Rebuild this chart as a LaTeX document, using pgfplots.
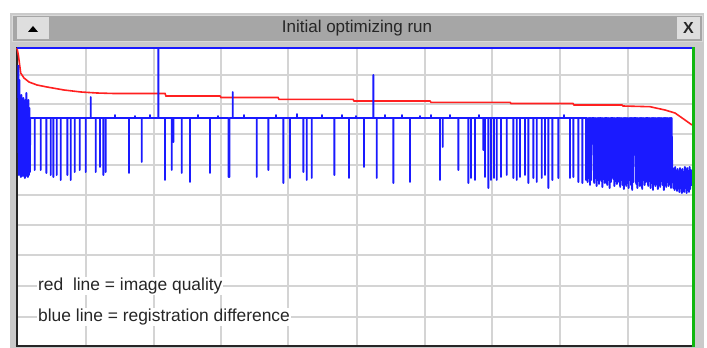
\documentclass[border=0pt]{standalone}
\usepackage{pgfplots}
\pgfplotsset{compat=1.18}
\usepackage{fontspec}
\setmainfont{Liberation Sans}
\definecolor{gridgray}{HTML}{D4D4D4}
\definecolor{framegray}{HTML}{CACACA}
\definecolor{titlegray}{HTML}{A6A6A6}
\definecolor{btngray}{HTML}{DEDEDE}
\definecolor{plotred}{HTML}{FF2020}
\definecolor{plotblue}{HTML}{1A1AFF}
\definecolor{cursorgreen}{HTML}{10B810}
\begin{document}
\begin{tikzpicture}
\useasboundingbox (0pt,0pt) rectangle (707pt,348pt);
\fill[white] (0pt,0pt) rectangle (707pt,348pt);
% window frame
\fill[framegray] (10pt,0pt) rectangle (704pt,335pt);
\fill[titlegray] (12pt,307pt) rectangle (702pt,333pt);
\draw[white!85!black, line width=0.8pt] (12pt,307pt) rectangle (702pt,333pt);
% buttons
\fill[btngray] (17pt,309pt) rectangle (49pt,331pt);
\fill[black] (28pt,316pt) -- (38pt,316pt) -- (33pt,322pt) -- cycle;
\fill[btngray] (677pt,309pt) rectangle (700pt,331pt);
\node[font=\fontsize{16}{18}\selectfont\bfseries, text=black!85] at (688.5pt,320pt) {X};
\node[font=\fontsize{17}{20}\selectfont, text=black!85] at (357pt,320pt) {Initial optimizing run};
% left and bottom plot border
\draw[black!85, line width=2pt] (16.5pt,1pt) -- (16.5pt,300.5pt);
\draw[black!85, line width=2pt] (15.5pt,2pt) -- (692pt,2pt);
\begin{axis}[
  at={(18pt,3pt)}, anchor=south west,
  scale only axis, width=675pt, height=297pt,
  xmin=18, xmax=693, ymin=48, ymax=345, y dir=reverse,
  xtick={86,154,221,288,357,425,492,560,628},
  ytick={75,104,134,165,195,225,255,286,317},
  xticklabels={}, yticklabels={},
  major tick length=0pt, tick style={draw=none},
  grid=major, grid style={gridgray, line width=1.5pt},
  axis line style={draw=none},
  axis background/.style={fill=white},
  clip=false,
]
\addplot[plotred, line width=1.6pt] coordinates {
(17,48)(18.5,56)(19,60)(20.7,73)(24,78)(29,82)(37,85)(47,87)(64,90)(81,92)(97,93)(114,93.5)(165,93.5)(166,96)(220,96)(221,97.5)(278,97.5)(279,99.3)(353,99.3)(354,101)(430,101)(431,102.3)(510,102.3)(511,103.5)(573,103.5)(574,105)(622,105)(623,106)(650,106.7)(665,110)(675,113)(685,120)(692,125)
};
\addplot[plotblue, line width=1.9pt, line join=round] coordinates {
(18.3,65)(18.8,175)(19.3,80)(19.8,172)(20.3,100)(20.8,177)(21.3,95)(21.8,170)(22.3,105)(22.8,176)(23.3,98)(23.8,174)(24.3,110)(24.8,178)(25.3,100)(25.8,172)(26.3,93)(26.8,176)(27.3,108)(27.8,177)(28.3,100)(28.8,175)(29.3,108)(29.8,172)(30.3,118)
(34.7,118)(34.7,170)(34.7,118)
(40.7,118)(40.7,170)(40.7,118)
(46.3,118)(46.3,173)(46.3,118)
(50.7,118)(50.7,175)(50.7,118)
(53.3,118)(53.3,177)(53.3,118)
(56.7,118)(56.7,175)(56.7,118)
(60.7,118)(60.7,180)(60.7,118)
(67.3,118)(67.3,175)(67.3,118)
(70.7,118)(70.7,180)(70.7,118)
(74.7,118)(74.7,172)(74.7,118)
(79.7,118)(79.7,170)(79.7,118)
(85.7,118)(85.7,172)(85.7,118)
(90.7,118)(90.7,97)(90.7,118)
(95.7,118)(95.7,172)(95.7,118)
(100,118)(100,167)(100,118)
(103.3,118)(103.3,175)(103.3,118)
(105.7,118)(105.7,172)(105.7,118)
(115,118)(115,115)(115,118)
(129,118)(129,173)(129,118)
(135,118)(135,116)(135,118)
(141.7,118)(141.7,162)(141.7,118)
(150,118)(150,115)(150,118)
(158.3,118)(158.3,48)(158.3,118)
(165,118)(165,180)(165,118)
(171.7,118)(171.7,170)(171.7,118)
(173.3,118)(173.3,142)(173.3,118)
(181.7,118)(181.7,173)(181.7,118)
(190,118)(190,182)(190,118)
(198,118)(198,115)(198,118)
(210,118)(210,173)(210,118)
(218,118)(218,116)(218,118)
(228.5,118)(228.5,177)(229.5,177)(229.5,118)
(232.7,118)(232.7,92)(232.7,118)
(244,118)(244,115)(244,118)
(256.7,118)(256.7,177)(256.7,118)
(268.3,118)(268.3,170)(268.3,118)
(276,118)(276,115)(276,118)
(283.3,118)(283.3,183)(283.3,118)
(290,118)(290,178)(290,118)
(297,118)(297,114)(297,118)
(303.3,118)(303.3,172)(303.3,118)
(306.7,118)(306.7,180)(306.7,118)
(311.7,118)(311.7,178)(311.7,118)
(322,118)(322,115)(322,118)
(334.3,118)(334.3,175)(334.3,118)
(342,118)(342,115)(342,118)
(349,118)(349,178)(349,118)
(356,118)(356,116)(356,118)
(364,118)(364,167)(364,118)
(373.3,118)(373.3,75)(373.3,118)
(376.7,118)(376.7,178)(376.7,118)
(385,118)(385,115)(385,118)
(393.3,118)(393.3,183)(393.3,118)
(402,118)(402,115)(402,118)
(410,118)(410,182)(410,118)
(420,118)(420,116)(420,118)
(431,118)(431,115)(431,118)
(440,118)(440,180)(440,118)
(442.7,118)(442.7,147)(442.7,118)
(450,118)(450,115)(450,118)
(458.3,118)(458.3,170)(458.3,118)
(468.3,118)(468.3,183)(468.3,118)
(471,118)(471,178)(471,118)
(475,118)(475,180)(475,118)
(479,118)(479,115)(479,118)
(483.3,118)(483.3,150)(483.3,118)
(485,118)(485,177)(485,118)
(488.3,118)(488.3,188)(488.3,118)
(491,118)(491,180)(491,118)
(494,118)(494,178)(494,118)
(496.7,118)(496.7,180)(496.7,118)
(501,118)(501,177)(501,118)
(506.7,118)(506.7,175)(506.7,118)
(513.3,118)(513.3,178)(513.3,118)
(516.7,118)(516.7,180)(516.7,118)
(520,118)(520,177)(520,118)
(525,118)(525,175)(525,118)
(528.3,118)(528.3,183)(528.3,118)
(533.3,118)(533.3,178)(533.3,118)
(536.7,118)(536.7,182)(536.7,118)
(541.7,118)(541.7,178)(541.7,118)
(545,118)(545,175)(545,118)
(548.3,118)(548.3,188)(548.3,118)
(552.3,118)(552.3,180)(552.3,118)
(558.3,118)(558.3,178)(558.3,118)
(564,118)(564,115)(564,118)
(570,118)(570,178)(570,118)
(573.3,118)(573.3,177)(573.3,118)
(578.3,118)(578.3,182)(578.3,118)
(582.3,118)(582.3,183)(582.3,118)
(586,118)(586,180)(586,118)
(587,118)(587.6,182)(588.2,118)(588.8,178)(589.4,118)(590,185)(590.6,118)(591.2,180)(591.8,118)(592.4,118)(593.6,118)
(594.2,183)(594.8,118)(595.4,178)(596,118)(596.6,186)(597.2,118)(597.8,180)(598.4,118)(599,184)(599.6,118)(600.6,118)
(601.2,181)(601.8,118)(602.4,187)(603,118)(603.6,179)(604.2,118)(604.8,183)(605.4,118)(606.6,118)
(607.2,185)(607.8,118)(608.4,180)(609,118)(609.6,188)(610.2,118)(610.8,182)(611.4,118)(612.6,118)
(613.2,179)(613.8,118)(614.4,186)(615,118)(615.6,181)(616.2,118)(616.8,184)(617.2,118)(618.4,118)
(619,182)(619.6,118)(620.2,187)(620.8,118)(621.4,180)(622,118)(622.6,185)(623.2,118)(623.8,189)(624.4,118)(625,181)(625.6,118)(626.2,186)(626.8,118)(627.4,183)(628,118)(628.6,188)(629.2,118)(629.8,180)(630.4,118)(631,185)(631.6,118)(632.2,190)(632.8,118)(633.4,182)(634,118)(635.6,118)
(636.2,184)(636.8,118)(637.4,188)(638,118)(638.6,181)(639.2,118)(639.8,186)(640.4,118)(641,183)(641.6,118)(642.2,189)(642.8,118)(643.4,180)(644,118)(644.6,185)(645.2,118)(645.8,182)(646.3,118)(647.6,118)
(648.2,186)(648.8,118)(649.4,181)(650,118)(650.6,188)(651.2,118)(651.8,183)(652.4,118)(653,190)(653.6,118)(654.2,180)(654.8,118)(655.4,186)(656,118)(656.6,184)(657.2,118)(657.8,189)(658.4,118)(659,182)(659.6,118)(660.2,187)(660.8,118)(661.4,181)(662,118)(662.6,185)(663.2,118)(663.8,190)(664.4,118)(665,183)(665.6,118)(666.2,187)(666.8,118)(667.4,182)(668,118)(668.6,186)(669.2,118)(669.8,184)(670.4,118)(671,188)(671.6,118)(672.2,175)
(672.8,168)(673.4,188)(674,170)(674.6,190)(675.2,167)(675.8,186)(676.4,172)(677,191)(677.6,169)(678.2,188)(678.8,173)(679.4,192)(680,168)(680.6,187)(681.2,171)(681.8,193)(682.4,169)(683,189)(683.6,172)(684.2,192)(684.8,167)(685.4,188)(686,170)(686.6,193)(687.2,168)(687.8,190)(688.4,171)(689,192)(689.6,167)(690.2,189)(690.8,170)(691.4,186)
};
\end{axis}
% top and right borders
\draw[plotblue, line width=2pt] (17pt,300pt) -- (693pt,300pt);
\draw[cursorgreen, line width=3pt] (693.5pt,1pt) -- (693.5pt,301pt);
% annotation text
\node[anchor=west, fill=white, inner sep=1pt, font=\fontsize{17.4}{20}\selectfont, text=black!85] at (37pt,62pt) {red\ \ line = image quality};
\node[anchor=west, fill=white, inner sep=1pt, font=\fontsize{17.4}{20}\selectfont, text=black!85] at (37pt,31pt) {blue line = registration difference};
\end{tikzpicture}
\end{document}
